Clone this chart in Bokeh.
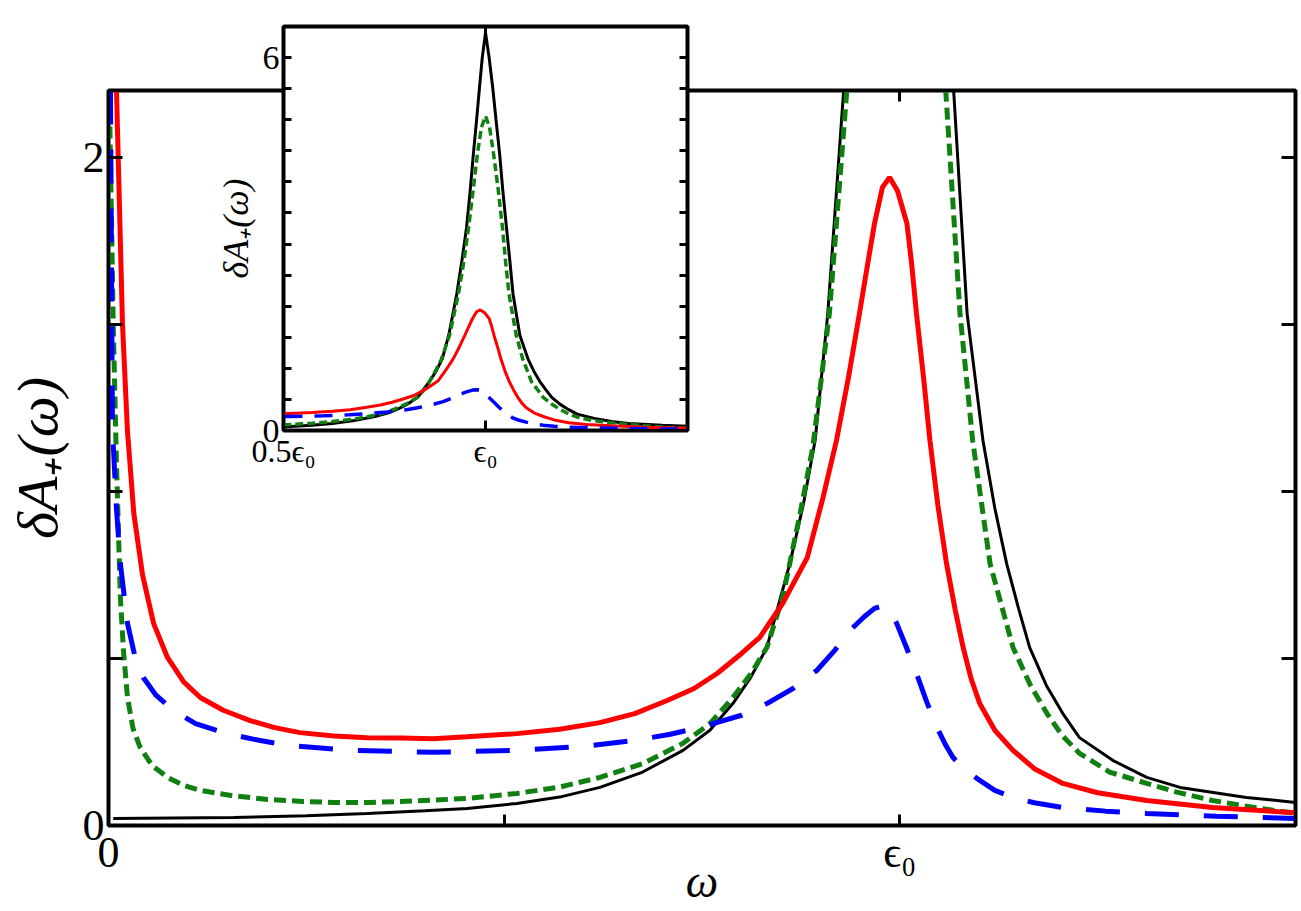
from bokeh.plotting import figure
from bokeh.models import Range1d, LinearAxis, FixedTicker
from bokeh.embed import file_html
from bokeh.resources import INLINE

# ---- data (omega in units of eps0) ----
black_x = [0.006, 0.158, 0.25, 0.327, 0.40, 0.453, 0.516, 0.57, 0.621, 0.675, 0.726, 0.76, 0.789,
           0.812, 0.832, 0.861, 0.878, 0.893, 0.909, 0.929, 0.942, 0.953, 0.962, 0.970, 0.978, 0.985,
           0.992, 1.000, 1.009, 1.018, 1.026, 1.035, 1.043, 1.052, 1.060, 1.068, 1.085, 1.105, 1.12,
           1.135, 1.15, 1.164, 1.185, 1.206, 1.227, 1.269, 1.312, 1.354, 1.438, 1.5]
black_y = [0.021, 0.024, 0.029, 0.036, 0.044, 0.051, 0.066, 0.085, 0.114, 0.16, 0.225, 0.285, 0.365,
           0.445, 0.533, 0.784, 0.96, 1.153, 1.533, 2.2, 2.75, 3.26, 3.85, 4.45, 5.0, 5.51,
           6.0, 6.40, 6.0, 5.51, 5.0, 4.45, 3.85, 3.26, 2.75, 2.2, 1.533, 1.153, 0.95,
           0.784, 0.65, 0.533, 0.42, 0.335, 0.263, 0.195, 0.144, 0.114, 0.084, 0.069]

green_x = [0.001, 0.006, 0.010, 0.015, 0.019, 0.024, 0.031, 0.040, 0.055, 0.0745, 0.095, 0.116, 0.155,
           0.201, 0.245, 0.284, 0.33, 0.369, 0.41, 0.453, 0.516, 0.57, 0.621, 0.675, 0.726, 0.76,
           0.789, 0.812, 0.832, 0.852, 0.874, 0.890, 0.911, 0.933, 0.946, 0.958, 0.970, 0.980, 0.990,
           1.000, 1.010, 1.020, 1.031, 1.042, 1.050, 1.058, 1.076, 1.092, 1.114, 1.143, 1.165, 1.186,
           1.205, 1.227, 1.265, 1.312, 1.35, 1.395, 1.45, 1.5]
green_y = [2.2, 1.5, 1.09, 0.683, 0.52, 0.383, 0.29, 0.234, 0.18, 0.144, 0.12, 0.105, 0.09,
           0.078, 0.072, 0.069, 0.069, 0.072, 0.076, 0.081, 0.096, 0.115, 0.144, 0.185, 0.246, 0.305,
           0.383, 0.455, 0.533, 0.683, 0.934, 1.132, 1.533, 2.2, 2.7, 3.26, 3.9, 4.45, 4.88,
           5.06, 4.88, 4.45, 3.9, 3.26, 2.7, 2.2, 1.533, 1.153, 0.784, 0.533, 0.42, 0.335,
           0.27, 0.216, 0.16, 0.126, 0.10, 0.075, 0.053, 0.036]

red_x = [0.0101, 0.0177, 0.024, 0.032, 0.043, 0.057, 0.0745, 0.095, 0.116, 0.145, 0.179, 0.21, 0.242,
         0.285, 0.327, 0.37, 0.410, 0.453, 0.516, 0.57, 0.621, 0.665, 0.706, 0.74, 0.769, 0.80,
         0.823, 0.852, 0.883, 0.903, 0.920, 0.935, 0.949, 0.960, 0.968, 0.978, 0.987, 0.997, 1.009,
         1.015, 1.021, 1.030, 1.038, 1.048, 1.059, 1.070, 1.080, 1.090, 1.101, 1.12, 1.143, 1.17,
         1.206, 1.25, 1.312, 1.395, 1.5]
red_y = [2.2, 1.5, 1.18, 0.934, 0.75, 0.605, 0.503, 0.43, 0.383, 0.345, 0.314, 0.293, 0.278,
         0.268, 0.263, 0.262, 0.260, 0.266, 0.275, 0.288, 0.308, 0.335, 0.374, 0.41, 0.455, 0.515,
         0.563, 0.665, 0.802, 0.982, 1.153, 1.34, 1.533, 1.69, 1.802, 1.91, 1.94, 1.90, 1.802,
         1.68, 1.533, 1.34, 1.153, 0.96, 0.784, 0.645, 0.533, 0.44, 0.365, 0.285, 0.225, 0.17,
         0.126, 0.098, 0.075, 0.054, 0.038]

blue_x = [0.0025, 0.004, 0.005, 0.010, 0.015, 0.024, 0.033, 0.044, 0.06, 0.082, 0.11, 0.150, 0.19,
          0.226, 0.306, 0.410, 0.516, 0.60, 0.663, 0.71, 0.756, 0.80, 0.832, 0.865, 0.895, 0.918,
          0.937, 0.955, 0.968, 0.978, 0.987, 0.996, 1.008, 1.021, 1.034, 1.047, 1.057, 1.067, 1.083,
          1.101, 1.12, 1.143, 1.17, 1.206, 1.26, 1.312, 1.4, 1.5]
blue_y = [2.2, 1.6, 1.19, 0.95, 0.784, 0.605, 0.51, 0.443, 0.39, 0.344, 0.305, 0.275, 0.255,
          0.240, 0.225, 0.219, 0.225, 0.237, 0.254, 0.273, 0.299, 0.33, 0.365, 0.41, 0.464, 0.525,
          0.584, 0.625, 0.65, 0.657, 0.648, 0.605, 0.535, 0.455, 0.37, 0.293, 0.245, 0.204, 0.165,
          0.135, 0.105, 0.084, 0.068, 0.054, 0.043, 0.036, 0.028, 0.021]

main_x_ticks = [0, 1.0]
main_x_minor = [0.5]
main_x_labels = {0: "0", 1.0: "ϵ₀"}
main_y_ticks = [0, 2.0]
main_y_minor = [0.5, 1.0, 1.5]
main_y_labels = {0: "0", 2.0: "2"}
inset_x_ticks = [0.5, 1.0]
inset_x_labels = {0.5: "0.5ϵ₀", 1.0: "ϵ₀"}
inset_y_ticks = [0, 6]
inset_y_minor = [0.5, 1, 1.5, 2, 2.5, 3, 3.5, 4, 4.5, 5, 5.5]
inset_y_labels = {0: "0", 6: "6"}

ylabel = "δA₊(ω)"
SERIF = "Liberation Serif"


def style_axis(ax, ticks, minor, labels, font_size, tick_len, lw):
    ax.ticker = FixedTicker(ticks=ticks, minor_ticks=minor)
    ax.major_label_overrides = labels
    ax.major_tick_in = tick_len
    ax.major_tick_out = 0
    ax.minor_tick_in = tick_len
    ax.minor_tick_out = 0
    ax.major_tick_line_width = lw
    ax.minor_tick_line_width = lw
    ax.major_tick_line_color = "black"
    ax.minor_tick_line_color = "black"
    ax.axis_line_width = lw
    ax.axis_line_color = "black"
    ax.major_label_text_font = SERIF
    ax.major_label_text_color = "black"
    ax.major_label_text_font_size = font_size
    ax.axis_label_text_color = "black"
    ax.axis_label_text_font = SERIF
    ax.axis_label_text_font_style = "italic"


# ---- main figure ----
p = figure(width=1301, height=911, x_range=Range1d(0, 1.5), y_range=Range1d(0, 2.2),
           output_backend="svg", toolbar_location=None,
           min_border_left=108, min_border_right=6, min_border_top=90, min_border_bottom=86)
p.grid.visible = False
p.outline_line_color = "black"
p.outline_line_width = 4
p.background_fill_color = "white"
p.border_fill_color = "white"

style_axis(p.xaxis[0], main_x_ticks, main_x_minor, main_x_labels, "44px", 11, 3)
style_axis(p.yaxis[0], main_y_ticks, main_y_minor, main_y_labels, "44px", 14, 3)
p.xaxis[0].axis_label = "ω"
p.xaxis[0].axis_label_text_font_size = "46px"
p.xaxis[0].major_label_standoff = 2
p.xaxis[0].axis_label_standoff = -24
p.yaxis[0].axis_label = ylabel
p.yaxis[0].axis_label_text_font_size = "58px"
p.yaxis[0].axis_label_standoff = 10
p.yaxis[0].major_label_standoff = 4

top_ax = LinearAxis()
style_axis(top_ax, [], [0.5, 1.0], {}, "10px", 11, 3)
p.add_layout(top_ax, "above")
right_ax = LinearAxis()
style_axis(right_ax, [], [0.5, 1.0, 1.5, 2.0], {}, "10px", 14, 3)
p.add_layout(right_ax, "right")

p.line(black_x, black_y, line_color="black", line_width=3)
p.line(green_x, green_y, line_color="#108010", line_width=5, line_dash="12 6")
p.line(red_x, red_y, line_color="#ff0000", line_width=5)
p.line(blue_x, blue_y, line_color="#0000ff", line_width=5, line_dash="34 25")

# ---- inset figure ----
IL, IR, IT, IB = 100, 10, 10, 55
FW, FH = 404, 404
q = figure(width=IL + FW + IR, height=IT + FH + IB, x_range=Range1d(0.5, 1.5), y_range=Range1d(0, 6.5),
           output_backend="svg", toolbar_location=None,
           min_border_left=IL, min_border_right=IR, min_border_top=IT, min_border_bottom=IB)
q.grid.visible = False
q.outline_line_color = "black"
q.outline_line_width = 4
q.background_fill_color = "white"
q.border_fill_alpha = 0
q.styles = {"position": "absolute", "left": f"{283 - IL}px", "top": f"{26 - IT}px"}

style_axis(q.xaxis[0], inset_x_ticks, [], inset_x_labels, "32px", 10, 3)
style_axis(q.yaxis[0], inset_y_ticks, inset_y_minor, inset_y_labels, "34px", 8, 3)
q.xaxis[0].major_label_standoff = 2
q.yaxis[0].major_label_standoff = 4
q.yaxis[0].axis_label = ylabel
q.yaxis[0].axis_label_text_font_size = "36px"
q.yaxis[0].axis_label_standoff = 4

q_top = LinearAxis()
style_axis(q_top, [], [1.0], {}, "10px", 8, 3)
q.add_layout(q_top, "above")
q_right = LinearAxis()
style_axis(q_right, [], inset_y_minor + [6.0], {}, "10px", 8, 3)
q.add_layout(q_right, "right")

q.line(black_x, black_y, line_color="black", line_width=3)
q.line(green_x, green_y, line_color="#108010", line_width=3.5, line_dash="8 4")
q.line(red_x, red_y, line_color="#ff0000", line_width=3)
q.line(blue_x, blue_y, line_color="#0000ff", line_width=3.5, line_dash="18 12")

open("out.html", "w").write(file_html([p, q], INLINE))
